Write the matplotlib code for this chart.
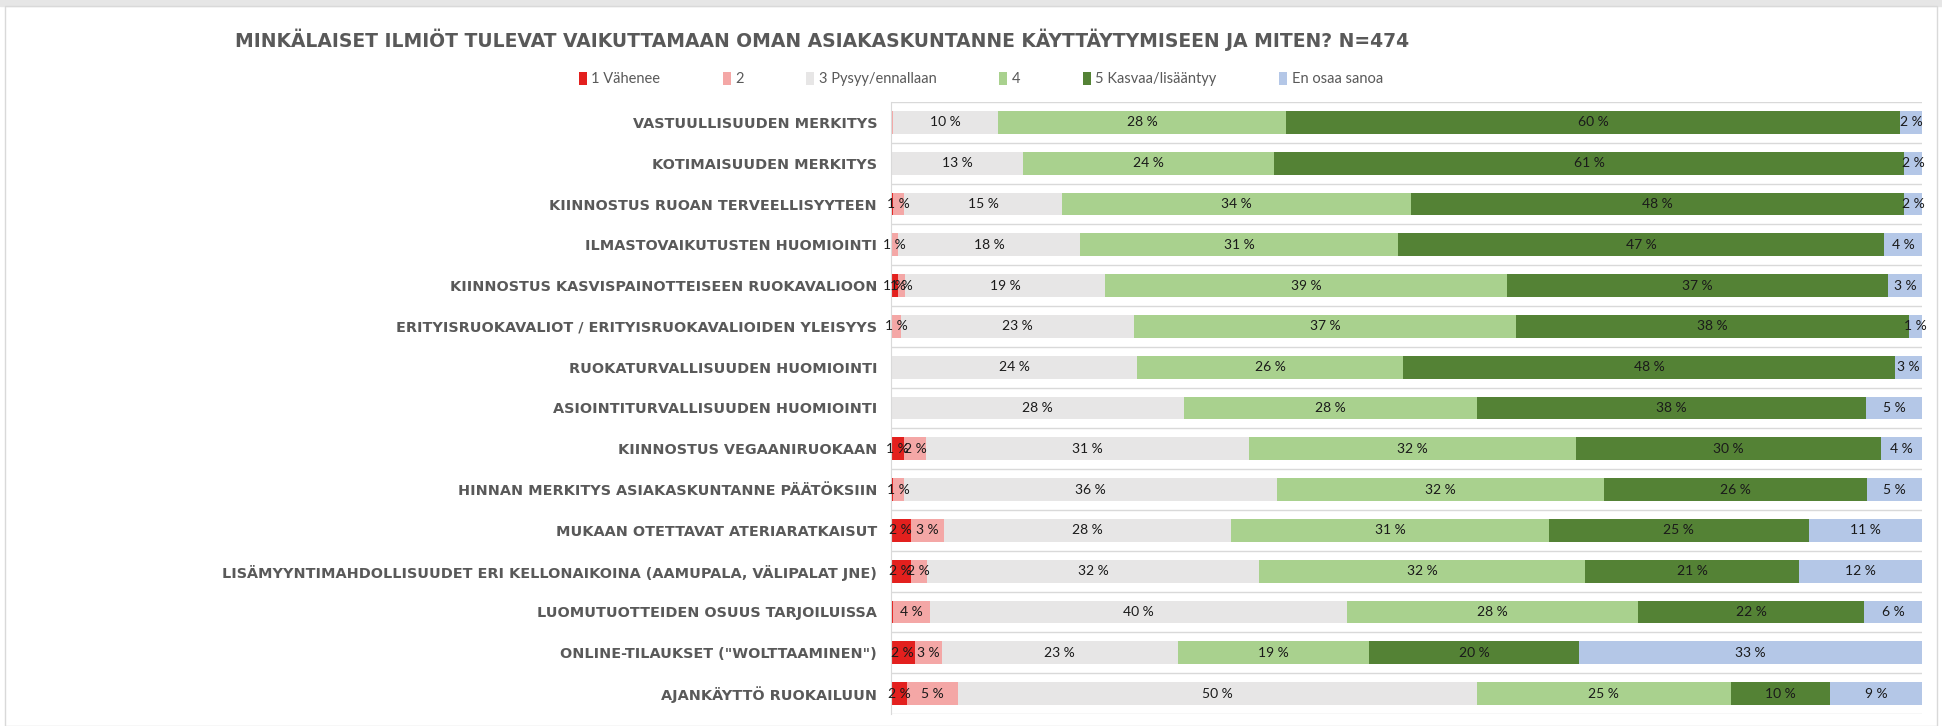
import numpy as np
import matplotlib
matplotlib.use('Agg')
import matplotlib.pyplot as plt
from matplotlib.patches import Rectangle

# Categories, top to bottom
categories = [
    'VASTUULLISUUDEN MERKITYS',
    'KOTIMAISUUDEN MERKITYS',
    'KIINNOSTUS RUOAN TERVEELLISYYTEEN',
    'ILMASTOVAIKUTUSTEN HUOMIOINTI',
    'KIINNOSTUS KASVISPAINOTTEISEEN RUOKAVALIOON',
    'ERITYISRUOKAVALIOT / ERITYISRUOKAVALIOIDEN YLEISYYS',
    'RUOKATURVALLISUUDEN HUOMIOINTI',
    'ASIOINTITURVALLISUUDEN HUOMIOINTI',
    'KIINNOSTUS VEGAANIRUOKAAN',
    'HINNAN MERKITYS ASIAKASKUNTANNE PÄÄTÖKSIIN',
    'MUKAAN OTETTAVAT ATERIARATKAISUT',
    'LISÄMYYNTIMAHDOLLISUUDET ERI KELLONAIKOINA (AAMUPALA, VÄLIPALAT JNE)',
    'LUOMUTUOTTEIDEN OSUUS TARJOILUISSA',
    'ONLINE-TILAUKSET ("WOLTTAAMINEN")',
    'AJANKÄYTTÖ RUOKAILUUN',
]

# Shares (%) per answer option
v1 = [0, 0, 0.2, 0, 0.7, 0, 0, 0, 1.3, 0.2, 1.9, 1.9, 0.2, 2.3, 1.6]
v2 = [0.2, 0, 1.1, 0.7, 0.7, 1.0, 0, 0, 2.1, 1.1, 3.2, 1.6, 3.6, 2.6, 4.9]
v3 = [10.2, 12.8, 15.3, 17.6, 19.4, 22.6, 23.9, 28.4, 31.3, 36.1, 27.9, 32.2, 40.4, 22.9, 50.3]
v4 = [27.9, 24.3, 33.8, 30.9, 38.9, 37.0, 25.8, 28.4, 31.7, 31.8, 30.8, 31.6, 28.3, 18.6, 24.7]
v5 = [59.6, 61.2, 47.9, 47.1, 37.0, 38.1, 47.7, 37.8, 29.6, 25.5, 25.2, 20.8, 21.9, 20.3, 9.6]
eos = [2.1, 1.7, 1.7, 3.7, 3.3, 1.3, 2.6, 5.4, 4.0, 5.3, 11.0, 11.9, 5.6, 33.3, 8.9]

series = [v1, v2, v3, v4, v5, eos]
names = ['1 Vähenee', '2', '3 Pysyy/ennallaan', '4', '5 Kasvaa/lisääntyy', 'En osaa sanoa']
colors = ['#E3201E', '#F4A7A6', '#E7E6E6', '#A9D18E', '#548235', '#B4C7E7']

title = 'MINKÄLAISET ILMIÖT TULEVAT VAIKUTTAMAAN OMAN ASIAKASKUNTANNE KÄYTTÄYTYMISEEN JA MITEN? N=474'

W, H = 1942, 726
fig = plt.figure(figsize=(W / 100, H / 100), dpi=100)

# chart area frame like in excel
fig.patches.append(Rectangle((0, 720 / H), 1, 6 / H, transform=fig.transFigure,
                             color='#E6E6E6', zorder=0))
fig.patches.append(Rectangle((5 / W, 0), 1932 / W, 720 / H, transform=fig.transFigure,
                             fill=False, ec='#D9D9D9', lw=1, zorder=0))

ax = fig.add_axes([891 / W, 12 / H, 1031 / W, 612 / H])

y = np.arange(len(categories))
left = np.zeros(len(categories))
for vals, name, col in zip(series, names, colors):
    vals = np.array(vals, dtype=float)
    ax.barh(y, vals, left=left, height=0.56, color=col, label=name, zorder=2)
    for i, v in enumerate(vals):
        r = int(v + 0.5)
        if r >= 1:
            ax.text(left[i] + v / 2, i, f'{r} %', ha='center', va='center',
                    fontsize=10, family='Lato', color='#1a1a1a', zorder=3)
    left += vals

ax.set_xlim(0, 100)
ax.set_ylim(len(categories) - 0.5, -0.5)
for b in np.arange(-0.5, len(categories)):
    ax.axhline(b, color='#D9D9D9', lw=1, zorder=1)

ax.set_xticks([])
ax.set_yticks(y)
ax.set_yticklabels(categories, fontsize=10.4, fontweight='bold', color='#595959',
                   family='DejaVu Sans')
ax.tick_params(axis='y', length=0, pad=10)
for s in ['top', 'right', 'bottom']:
    ax.spines[s].set_visible(False)
ax.spines['left'].set_color('#D9D9D9')

fig.text(235 / W, 1 - 40 / H, title, fontsize=13.5, fontweight='bold',
         color='#595959', va='center', ha='left', family='DejaVu Sans')

fig.legend(loc='center', bbox_to_anchor=(0.505, 1 - 79 / H), ncol=6, frameon=False,
           handlelength=0.55, handleheight=1.0, handletextpad=0.3, columnspacing=4.3,
           prop={'family': 'Lato', 'size': 10.5}, labelcolor='#595959')

fig.savefig('out.png', dpi=100)
